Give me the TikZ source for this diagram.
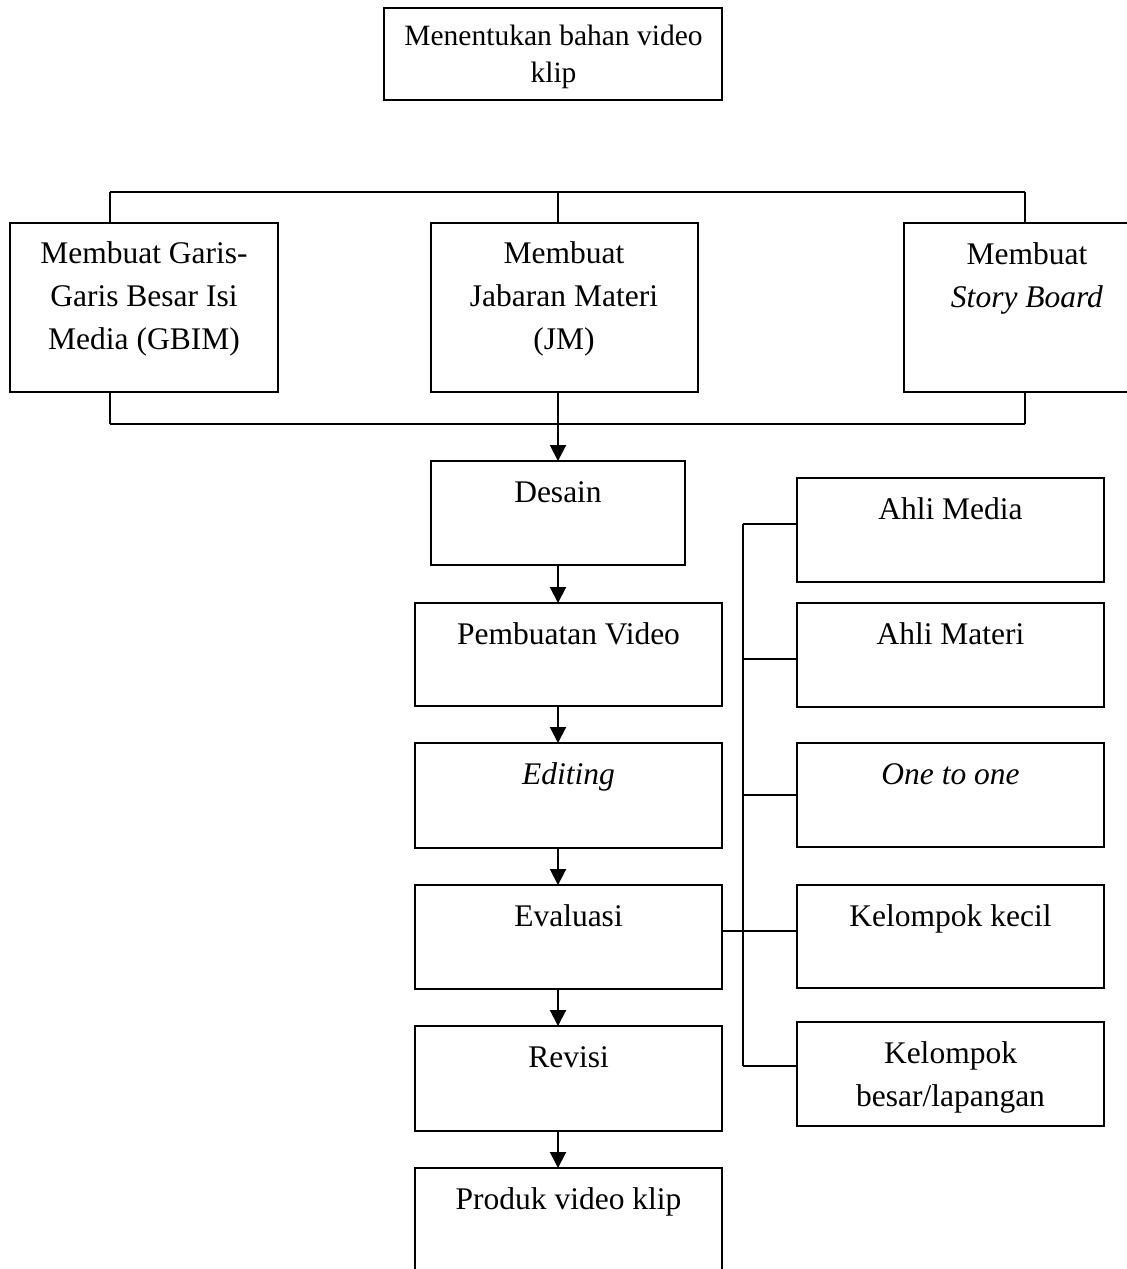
\documentclass[tikz,border=0pt]{standalone}
\usepackage{fontspec}
\setmainfont{Liberation Serif}
\usetikzlibrary{arrows.meta}
\newcommand{\lns}[1]{\begin{tabular}[t]{@{}c@{}}#1\end{tabular}}
\begin{document}
\begin{tikzpicture}[x=1pt,y=-1pt,
  box/.style={draw,line width=2pt,inner sep=0pt,outer sep=0pt},
  conn/.style={line width=1.8pt},
  arr/.style={line width=2pt,-{Triangle[length=16pt,width=16pt]}},
  txt/.style={anchor=base,inner sep=0pt,font=\fontsize{31.5}{43}\selectfont},
  toptxt/.style={anchor=base,inner sep=0pt,font=\fontsize{29.5}{37}\selectfont}]
\useasboundingbox (0,0) rectangle (1127,1269);
\clip (0,0) rectangle (1127,1269);
% boxes
\node[box,minimum width=338pt,minimum height=92pt] (top) at (553,54) {};
\node[box,minimum width=268pt,minimum height=169pt] (gbim) at (144,307.5) {};
\node[box,minimum width=267pt,minimum height=169pt] (jm) at (564.5,307.5) {};
\node[box,minimum width=246pt,minimum height=169pt] (sb) at (1027,307.5) {};
\node[box,minimum width=254pt,minimum height=104pt] (des) at (558,513) {};
\node[box,minimum width=307pt,minimum height=103pt] (pv) at (568.5,654.5) {};
\node[box,minimum width=307pt,minimum height=105pt] (ed) at (568.5,795.5) {};
\node[box,minimum width=307pt,minimum height=104pt] (ev) at (568.5,937) {};
\node[box,minimum width=307pt,minimum height=105pt] (rev) at (568.5,1078.5) {};
\node[box,minimum width=307pt,minimum height=132pt] (prod) at (568.5,1234) {};
\node[box,minimum width=307pt,minimum height=104pt] (am) at (950.5,530) {};
\node[box,minimum width=307pt,minimum height=104pt] (amt) at (950.5,655) {};
\node[box,minimum width=307pt,minimum height=104pt] (oto) at (950.5,795) {};
\node[box,minimum width=307pt,minimum height=103pt] (kk) at (950.5,936.5) {};
\node[box,minimum width=307pt,minimum height=104pt] (kb) at (950.5,1074) {};
% texts
\node[toptxt] (ttop) at (553.5,45) {\lns{Menentukan bahan video\\klip}};
\node[txt] (tgbim) at (144,263) {\lns{Membuat Garis-\\Garis Besar Isi\\Media (GBIM)}};
\node[txt] (tjm) at (564,263) {\lns{Membuat\\Jabaran Materi\\(JM)}};
\node[txt] (tsb) at (1027,264) {\lns{Membuat\\\textit{Story Board}}};
\node[txt] (tdes) at (558,502) {Desain};
\node[txt] (tpv) at (568.5,644) {Pembuatan Video};
\node[txt] (ted) at (568.5,784) {\textit{Editing}};
\node[txt] (tev) at (568.5,926) {Evaluasi};
\node[txt] (trev) at (568.5,1067) {Revisi};
\node[txt] (tprod) at (568.5,1209) {Produk video klip};
\node[txt] (tam) at (950.5,519) {Ahli Media};
\node[txt] (tamt) at (950.5,644) {Ahli Materi};
\node[txt] (toto) at (950.5,784) {\textit{One to one}};
\node[txt] (tkk) at (950.5,926) {Kelompok kecil};
\node[txt] (tkb) at (950.5,1063) {\lns{Kelompok\\besar/lapangan}};
% bus lines row 2
\coordinate (tl) at (110,192);
\coordinate (tm) at (558,192);
\coordinate (tr) at (1025,192);
\coordinate (bl) at (110,424);
\coordinate (bm) at (558,424);
\coordinate (br) at (1025,424);
\draw[conn] (tl) -- (tr);
\draw[conn] (tl) -- (tl |- gbim.north);
\draw[conn] (tm) -- (tm |- jm.north);
\draw[conn] (tr) -- (tr |- sb.north);
\draw[conn] (bl) -- (br);
\draw[conn] (bl) -- (bl |- gbim.south);
\draw[conn] (bm) -- (bm |- jm.south);
\draw[conn] (br) -- (br |- sb.south);
% main arrows
\draw[arr] (bm) -- (des.north);
\draw[arr] (des.south) -- (des.south |- pv.north);
\draw[arr] (pv.south -| des) -- (ed.north -| des);
\draw[arr] (ed.south -| des) -- (ev.north -| des);
\draw[arr] (ev.south -| des) -- (rev.north -| des);
\draw[arr] (rev.south -| des) -- (prod.north -| des);
% evaluation branch
\coordinate (v1) at (743,524);
\coordinate (v2) at (743,659);
\coordinate (v3) at (743,795);
\coordinate (v4) at (743,931);
\coordinate (v5) at (743,1066);
\draw[conn] (v1) -- (v5);
\draw[conn] (v1) -- (v1 -| am.west);
\draw[conn] (v2) -- (v2 -| amt.west);
\draw[conn] (v3) -- (v3 -| oto.west);
\draw[conn] (ev.east |- v4) -- (v4 -| kk.west);
\draw[conn] (v5) -- (v5 -| kb.west);
\end{tikzpicture}
\end{document}
